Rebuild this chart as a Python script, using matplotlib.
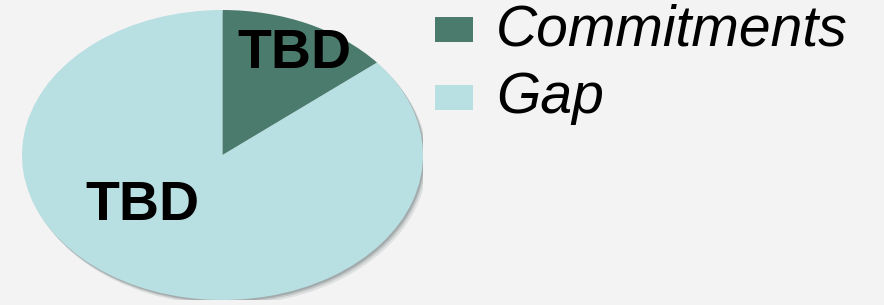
import matplotlib.pyplot as plt
from matplotlib.patches import Ellipse

# Data
categories = ['Commitments', 'Gap']
shares = [14, 86]
slice_labels = ['TBD', 'TBD']
colors = ['#4b7b6c', '#b8dfe2']

plt.rcParams['font.family'] = ['Liberation Sans', 'DejaVu Sans']

fig = plt.figure(figsize=(8.84, 3.05), dpi=100)
fig.patch.set_facecolor('#f3f3f3')

# pie axes stretched so the pie becomes an ellipse
ax = fig.add_axes([22 / 884, 5 / 305, 401 / 884, 290 / 305])
ax.set_facecolor('none')

# soft shadow on the lower right rim
for off, a in [(0.035, 0.18), (0.022, 0.3), (0.012, 0.45)]:
    ax.add_patch(Ellipse((off * 0.6, -off), 2, 2, color='#7f8a8c', alpha=a, lw=0, zorder=0))

wedges, _ = ax.pie(shares, colors=colors, startangle=90, counterclock=False,
                   radius=1, wedgeprops=dict(linewidth=0))
for w in wedges:
    w.set_zorder(1)
ax.set_aspect('auto')
ax.set_xlim(-1, 1)
ax.set_ylim(-1, 1)
ax.axis('off')

# slice labels
label_pos = [(0.36, 0.70), (-0.40, -0.35)]
for (x, y), txt in zip(label_pos, slice_labels):
    ax.text(x, y, txt, ha='center', va='center', fontsize=40,
            fontweight='bold', color='black', zorder=3)

# legend
leg_y = [30, 98]
for name, col, y in zip(categories, colors, leg_y):
    fy = 1 - y / 305
    fig.patches.append(plt.Rectangle((435 / 884, fy - 12 / 305), 38 / 884, 25 / 305,
                                     transform=fig.transFigure, color=col, lw=0))
    fig.text(496 / 884, fy, name, ha='left', va='center', fontsize=41,
             fontstyle='italic', color='black')

fig.savefig('out.png', dpi=100, facecolor=fig.get_facecolor())
